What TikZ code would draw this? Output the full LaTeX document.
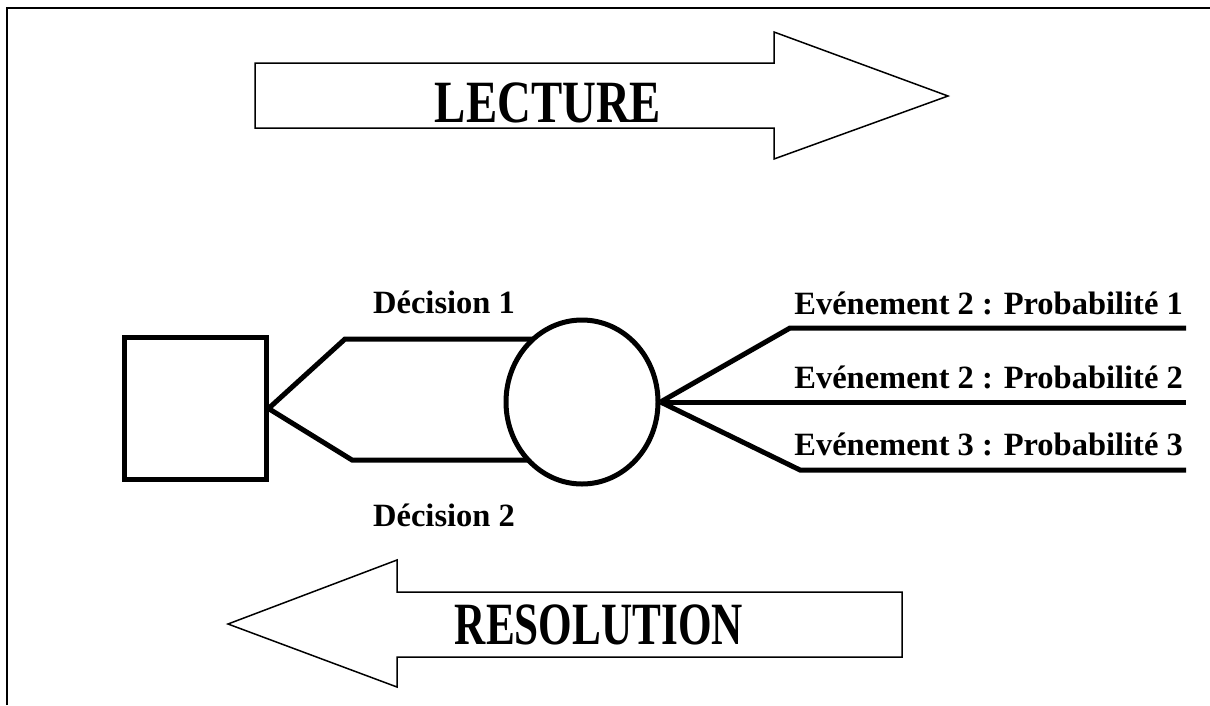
\documentclass[tikz,border=0pt]{standalone}
\usepackage{fontspec}
\setmainfont{Liberation Serif}
\newfontfamily\bannerfont[FakeStretch=0.78]{Liberation Serif}
\newfontfamily\bannerfontnarrow[FakeStretch=0.72]{Liberation Serif}
\usetikzlibrary{shapes.geometric,backgrounds}

\tikzset{
  frameline/.style={line width=2pt},
  banner/.style={draw, line width=1.5pt, fill=white, line join=miter},
  bannertext/.style={font=\bannerfont\bfseries\fontsize{60}{72}\selectfont, inner sep=0pt, anchor=base},
  bannertextnarrow/.style={bannertext, font=\bannerfontnarrow\bfseries\fontsize{60}{72}\selectfont},
  treeline/.style={line width=5pt, line join=miter},
  decnode/.style={draw, line width=5pt, minimum size=142pt, inner sep=0pt},
  chancenode/.style={draw, ellipse, line width=5pt, fill=white, minimum width=152pt, minimum height=164pt, inner sep=0pt},
  branchlabel/.style={font=\bfseries\fontsize{32.5}{39}\selectfont, inner sep=0pt},
}

\begin{document}
\begin{tikzpicture}[x=1pt,y=-1pt]
\useasboundingbox (0,0) rectangle (1210,705);

% outer frame (open to the right and the bottom)
\draw[frameline] (7,705) -- (7,8) -- (1210,8);

% reading direction
\draw[banner] (255,63) -- (774,63) -- (774,32) -- (948,96) -- (774,159) -- (774,128) -- (255,128) -- cycle;
\node[bannertext] (lecture) at (548,122) {LECTURE};

% solving direction
\draw[banner] (902,592) -- (397,592) -- (397,560) -- (228,624) -- (397,687) -- (397,657) -- (902,657) -- cycle;
\node[bannertextnarrow] (resolution) at (599,644) {RESOLUTION};

% decision and chance nodes
\node[decnode] (dec) at (195,408.5) {};
\node[chancenode] (chance) at (582,402) {};

% branch points
\coordinate (d1) at (345,339);
\coordinate (d2) at (352,460);
\coordinate (e1) at (790,328);
\coordinate (e3) at (800,470);
\coordinate (e1end) at (1186,328);
\coordinate (e2end) at (1186,402);
\coordinate (e3end) at (1186,470);

\begin{scope}[on background layer]
  \draw[treeline] (dec.east) -- (d1) -- (d1 -| chance.center);
  \draw[treeline] (dec.east) -- (d2) -- (d2 -| chance.center);
\end{scope}
\draw[treeline] (chance.east) -- (e1) -- (e1end);
\draw[treeline] (chance.east) -- (e2end);
\draw[treeline] (chance.east) -- (e3) -- (e3end);

% labels
\node[branchlabel, anchor=base] (l1) at (444,313) {Décision 1};
\node[branchlabel, anchor=base] (l2) at (444,526) {Décision 2};
\node[branchlabel, anchor=base east] (p1) at (1183,314) {Evénement 2 : Probabilité 1};
\node[branchlabel, anchor=base east] (p2) at (1183,388) {Evénement 2 : Probabilité 2};
\node[branchlabel, anchor=base east] (p3) at (1183,455) {Evénement 3 : Probabilité 3};
\end{tikzpicture}
\end{document}
